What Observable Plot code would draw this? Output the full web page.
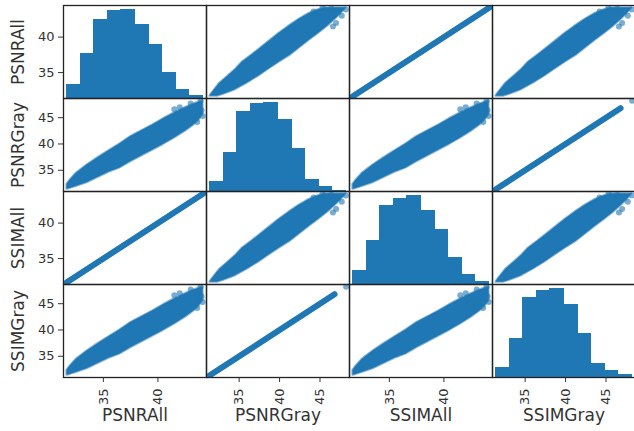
<!DOCTYPE html>
<html><head><meta charset="utf-8">
<script src="https://cdn.jsdelivr.net/npm/d3@7"></script>
<script src="https://cdn.jsdelivr.net/npm/@observablehq/plot@0.6"></script>
<style>
html,body{margin:0;padding:0;background:#fff;}
#chart{position:relative;width:634px;height:431px;overflow:hidden;font-family:"DejaVu Sans",sans-serif;}
#chart svg{position:absolute;overflow:visible;}
</style></head><body><div id="chart"></div>
<script>
// ---- data ----
const variables = ["PSNRAll", "PSNRGray", "SSIMAll", "SSIMGray"];
// data min / max of each variable
const extentPSNRAll = [31.66, 44.14];
const extentPSNRGray = [31.38, 48.23];
const extentSSIMAll = [31.66, 44.14];
const extentSSIMGray = [31.38, 48.23];
// tick labels
const ticksAll = [35, 40];
const ticksGray = [35, 40, 45];
// histogram counts (10 bins each)
const histPSNRAll = [144, 454, 787, 877, 887, 737, 544, 260, 87, 34];
const histPSNRGray = [100, 387, 787, 870, 875, 710, 420, 120, 50, 12];
const histSSIMAll = [140, 440, 790, 867, 890, 747, 557, 267, 97, 33];
const histSSIMGray = [100, 393, 807, 873, 893, 733, 440, 140, 67, 27];
// scatter cloud of the "All" score against the "Gray" score: All value, Gray low edge, Gray high edge
const bandAll = [31.66, 31.9, 32.5, 33.5, 34.5, 35.5, 36.5, 37.5, 38.5, 39.5, 40.5, 41.5, 42.5, 43.3, 43.8, 44.14];
const bandGrayLow = [31.38, 31.5, 31.9, 32.6, 33.6, 34.6, 35.4, 36.6, 37.7, 38.8, 39.9, 41.1, 42.4, 43.6, 44.6, 45.6];
const bandGrayHigh = [32.3, 33.0, 34.4, 36.0, 37.4, 38.7, 40.0, 41.4, 42.5, 43.6, 44.8, 45.9, 46.9, 47.6, 48.0, 48.23];
// stray points of that cloud: [All, Gray]
const cloudStrays = [[42.0, 47.0], [43.6, 44.2], [43.0, 47.7], [44.1, 45.3], [41.5, 46.6], [43.9, 48.2], [44.0, 46.4]];
// PSNR vs SSIM (same image set): the points lie on a line
const lineAll = [31.66, 44.14];
const lineGray = [31.38, 46.8];
const strayGray = [48.23];

const C0 = "#1f77b4";
const ext = {PSNRAll: extentPSNRAll, PSNRGray: extentPSNRGray, SSIMAll: extentSSIMAll, SSIMGray: extentSSIMGray};
const hist = {PSNRAll: histPSNRAll, PSNRGray: histPSNRGray, SSIMAll: histSSIMAll, SSIMGray: histSSIMGray};
const ticks = {PSNRAll: ticksAll, PSNRGray: ticksGray, SSIMAll: ticksAll, SSIMGray: ticksGray};
const isGray = v => v.endsWith("Gray");
// pandas scatter_matrix limits: 5% range padding
const dom = v => { const [a, b] = ext[v]; const p = (b - a) * 0.025; return [a - p, b + p]; };

const band = bandAll.map((a, i) => ({a, lo: bandGrayLow[i], hi: bandGrayHigh[i]}));
const strays = cloudStrays.map(([a, g]) => ({a, g}));

const colLeft = [63, 206, 349, 492], rowTop = [5, 98, 191, 284];
const W = 143, H = 93;
const root = document.getElementById("chart");
const style = {background: "transparent", color: "#333", fontFamily: "DejaVu Sans, sans-serif"};

function place(svg, left, top) {
  svg.style.left = left + "px"; svg.style.top = top + "px";
  root.appendChild(svg);
}

function panelMarks(rv, cv) {
  if (rv === cv) {
    const [a, b] = ext[cv]; const w = (b - a) / hist[cv].length;
    const bins = hist[cv].map((n, i) => ({x1: a + i * w, x2: a + (i + 1) * w, n}));
    return {y: [0, d3.max(hist[cv]) * 1.05], marks: [Plot.rectY(bins, {x1: "x1", x2: "x2", y: "n", fill: C0, insetLeft: -0.5, insetRight: -0.5, shapeRendering: "crispEdges"})]};
  }
  const sameGroup = isGray(rv) === isGray(cv);
  if (sameGroup) {
    const pts = (isGray(rv) ? lineGray : lineAll).map(v => ({v}));
    const marks = [Plot.line(pts, {x: "v", y: "v", stroke: C0, strokeWidth: 6, strokeLinecap: "round", clip: true})];
    if (isGray(rv)) marks.push(Plot.dot(strayGray.map(v => ({v})), {x: "v", y: "v", r: 3, fill: C0, fillOpacity: 0.6, clip: true}));
    return {y: dom(rv), marks};
  }
  const st = {fill: C0, stroke: C0, strokeWidth: 2, strokeOpacity: 0.55, strokeLinejoin: "round", clip: true, curve: "linear"};
  if (isGray(rv)) {
    // y = Gray score, x = All score
    return {y: dom(rv), marks: [
      Plot.areaY(band, {x: "a", y1: "lo", y2: "hi", ...st}),
      Plot.dot(strays, {x: "a", y: "g", r: 3, fill: C0, fillOpacity: 0.6, clip: true})
    ]};
  }
  // y = All score, x = Gray score
  return {y: dom(rv), marks: [
    Plot.areaX(band, {y: "a", x1: "lo", x2: "hi", ...st}),
    Plot.dot(strays, {x: "g", y: "a", r: 3, fill: C0, fillOpacity: 0.6, clip: true})
  ]};
}

variables.forEach((rv, r) => {
  variables.forEach((cv, c) => {
    const p = panelMarks(rv, cv);
    const svg = Plot.plot({
      width: W + 2, height: H + 2, margin: 1, style,
      x: {domain: dom(cv), axis: null},
      y: {domain: p.y, axis: null},
      marks: [...p.marks, Plot.frame({stroke: "#222", strokeWidth: 1.3})]
    });
    place(svg, colLeft[c] - 1, rowTop[r] - 1);
  });
  // left axis of the row
  const ya = Plot.plot({
    width: 65, height: H + 2, marginLeft: 63, marginRight: 1, marginTop: 1, marginBottom: 1, style,
    x: {domain: [0, 1], axis: null},
    y: {domain: dom(rv), axis: null},
    marks: [
      Plot.axisY({ticks: ticks[rv], tickSize: 5, tickPadding: 4, fontSize: 13, label: null}),
      Plot.text([rv], {frameAnchor: "left", textAnchor: "middle", rotate: -90, dx: -45, fontSize: 17, fill: "#333"})
    ]
  });
  place(ya, 0, rowTop[r] - 1);
});

variables.forEach((cv, c) => {
  const xa = Plot.plot({
    width: W + 2, height: 56, marginTop: 1, marginBottom: 54, marginLeft: 1, marginRight: 1, style,
    x: {domain: dom(cv), axis: null},
    y: {domain: [0, 1], axis: null},
    marks: [
      Plot.axisX({ticks: ticks[cv], tickSize: 5, tickPadding: 6, tickRotate: -90, fontSize: 13, label: null}),
      Plot.text([cv], {frameAnchor: "bottom", dy: 43, fontSize: 17, fill: "#333"})
    ]
  });
  place(xa, colLeft[c] - 1, rowTop[3] + H - 2);
});
</script></body></html>
